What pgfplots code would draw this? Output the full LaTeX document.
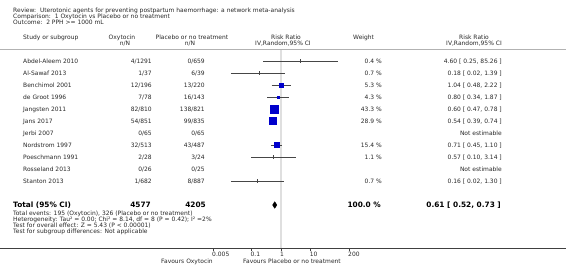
\documentclass[border=0pt]{standalone}
\usepackage{pgfplots}
\pgfplotsset{compat=1.18}
\usepackage{fontspec}
\setmainfont{DejaVu Sans}
\definecolor{rmblue}{RGB}{0,0,204}
\definecolor{txt}{RGB}{40,40,40}
\definecolor{ciline}{RGB}{70,70,70}
\newcommand{\fs}{\fontsize{6.0}{7}\selectfont}
\newcommand{\fb}{\fontsize{7.4}{8}\selectfont\bfseries}
\begin{document}
\begin{tikzpicture}
\path[use as bounding box] (0bp,0bp) rectangle (566bp,-265bp);
\tikzset{L/.style={anchor=mid west,inner sep=0pt,text=txt,font=\fs},
         R/.style={anchor=mid east,inner sep=0pt,text=txt,font=\fs},
         C/.style={anchor=mid,inner sep=0pt,text=txt,font=\fs}}
% title block
\node[L] at (13bp,-10bp) {Review:\ \ Uterotonic agents for preventing postpartum haemorrhage: a network meta-analysis};
\node[L] at (13bp,-15.8bp) {Comparison:\ \ 1 Oxytocin vs Placebo or no treatment};
\node[L] at (13bp,-21.6bp) {Outcome:\ \ 2 PPH >= 1000 mL};
% headers
\node[L] at (23bp,-37bp) {Study or subgroup};
\node[C] at (122bp,-37bp) {Oxytocin};
\node[C] at (125bp,-43bp) {n/N};
\node[C] at (192bp,-37bp) {Placebo or no treatment};
\node[C] at (190bp,-43bp) {n/N};
\node[C] at (286bp,-37bp) {Risk Ratio};
\node[C] at (283bp,-43bp) {IV,Random,95\% CI};
\node[L] at (353bp,-37bp) {Weight};
\node[C] at (474bp,-37bp) {Risk Ratio};
\node[C] at (474bp,-43bp) {IV,Random,95\% CI};
\draw[gray!60,line width=1.3bp] (0bp,-49.5bp) -- (566bp,-49.5bp);
% rows
\foreach \y/\name/\a/\b/\w/\rr [count=\i] in {
 61/Abdel-Aleem 2010/4\slash 1291/0\slash 659/0.4 \%/{4.60 [ 0.25, 85.26 ]},
 73/Al-Sawaf 2013/1\slash 37/6\slash 39/0.7 \%/{0.18 [ 0.02, 1.39 ]},
 85/Benchimol 2001/12\slash 196/13\slash 220/5.3 \%/{1.04 [ 0.48, 2.22 ]},
 97/de Groot 1996/7\slash 78/16\slash 143/4.3 \%/{0.80 [ 0.34, 1.87 ]},
 109/Jangsten 2011/82\slash 810/138\slash 821/43.3 \%/{0.60 [ 0.47, 0.78 ]},
 121/Jans 2017/54\slash 851/99\slash 835/28.9 \%/{0.54 [ 0.39, 0.74 ]},
 133/Jerbi 2007/0\slash 65/0\slash 65//{Not estimable},
 145/Nordstrom 1997/32\slash 513/43\slash 487/15.4 \%/{0.71 [ 0.45, 1.10 ]},
 157/Poeschmann 1991/2\slash 28/3\slash 24/1.1 \%/{0.57 [ 0.10, 3.14 ]},
 169/Rosseland 2013/0\slash 26/0\slash 25//{Not estimable},
 181/Stanton 2013/1\slash 682/8\slash 887/0.7 \%/{0.16 [ 0.02, 1.30 ]}}{
 \node[L] at (23bp,-\y bp) {\name};
 \node[R] at (152bp,-\y bp) {\a};
 \node[R] at (205bp,-\y bp) {\b};
 \node[R] at (382bp,-\y bp) {\w};
 \node[R] at (502bp,-\y bp) {\rr};
}
% totals
\node[anchor=mid west,inner sep=0pt,text=black,font=\fb] at (13bp,-205bp) {Total (95\% CI)};
\node[anchor=mid east,inner sep=0pt,text=black,font=\fb] at (151bp,-205bp) {4577};
\node[anchor=mid east,inner sep=0pt,text=black,font=\fb] at (206bp,-205bp) {4205};
\node[anchor=mid east,inner sep=0pt,text=black,font=\fb] at (381bp,-205bp) {100.0 \%};
\node[anchor=mid east,inner sep=0pt,text=black,font=\fb] at (501bp,-205bp) {0.61 [ 0.52, 0.73 ]};
\node[L] at (13bp,-212.5bp) {Total events: 195 (Oxytocin), 326 (Placebo or no treatment)};
\node[L] at (13bp,-218.5bp) {Heterogeneity: Tau² = 0.00; Chi² = 8.14, df = 8 (P = 0.42); I² =2\%};
\node[L] at (13bp,-224.5bp) {Test for overall effect: Z = 5.43 (P < 0.00001)};
\node[L] at (13bp,-231bp) {Test for subgroup differences: Not applicable};
% bottom rule
\draw[black!75,line width=0.8bp] (0bp,-248bp) -- (566bp,-248bp);
\node[C] at (187bp,-261bp) {Favours Oxytocin};
\node[L] at (243bp,-261bp) {Favours Placebo or no treatment};
\begin{axis}[at={(213bp,-248bp)},anchor=south west,
  width=136bp,height=198bp,scale only axis,clip=false,
  xmode=log,xmin=0.005,xmax=200,ymin=-16.583,ymax=-0.0833,
  axis x line*=bottom,axis y line=none,
  axis line style={draw=none},
  xtick={0.005,0.1,1,10,200},xticklabels={0.005,0.1,1,10,200},
  xminorticks=false,
  tick align=outside,major tick length=2.5bp,
  tick style={black!75,line width=0.5bp},
  xticklabel style={font=\fs,text=txt,anchor=north west,xshift=-1bp,inner sep=0pt,yshift=-1.5bp},
  ]
\addplot[gray!25,line width=1.2bp] coordinates {(1,-0.0833) (1,-16.583)};
% confidence intervals
\addplot[ciline,line width=0.5bp] coordinates {(0.25,-1) (85.26,-1)};
\addplot[ciline,line width=0.5bp] coordinates {(0.02,-2) (1.39,-2)};
\addplot[ciline,line width=0.5bp] coordinates {(0.48,-3) (2.22,-3)};
\addplot[ciline,line width=0.5bp] coordinates {(0.34,-4) (1.87,-4)};
\addplot[ciline,line width=0.5bp] coordinates {(0.47,-5) (0.78,-5)};
\addplot[ciline,line width=0.5bp] coordinates {(0.39,-6) (0.74,-6)};
\addplot[ciline,line width=0.5bp] coordinates {(0.45,-8) (1.10,-8)};
\addplot[ciline,line width=0.5bp] coordinates {(0.10,-9) (3.14,-9)};
\addplot[ciline,line width=0.5bp] coordinates {(0.02,-11) (1.30,-11)};
% small-weight point estimates
\addplot[only marks,mark=|,mark size=1.6bp,mark options={ciline,line width=0.7bp}] coordinates {(4.60,-1) (0.18,-2) (0.57,-9) (0.16,-11)};
% weighted squares
\addplot[only marks,mark=square*,mark size=1.9bp,rmblue] coordinates {(1.04,-3)};
\addplot[only marks,mark=square*,mark size=1.2bp,rmblue] coordinates {(0.80,-4)};
\addplot[only marks,mark=square*,mark size=4.0bp,rmblue] coordinates {(0.60,-5)};
\addplot[only marks,mark=square*,mark size=3.4bp,rmblue] coordinates {(0.54,-6)};
\addplot[only marks,mark=square*,mark size=2.4bp,rmblue] coordinates {(0.71,-8)};
% pooled diamond
\addplot[fill=black,draw=black,line width=0.3bp] coordinates {(0.52,-13) (0.61,-12.72) (0.73,-13) (0.61,-13.28)} -- cycle;
\end{axis}
\end{tikzpicture}
\end{document}
